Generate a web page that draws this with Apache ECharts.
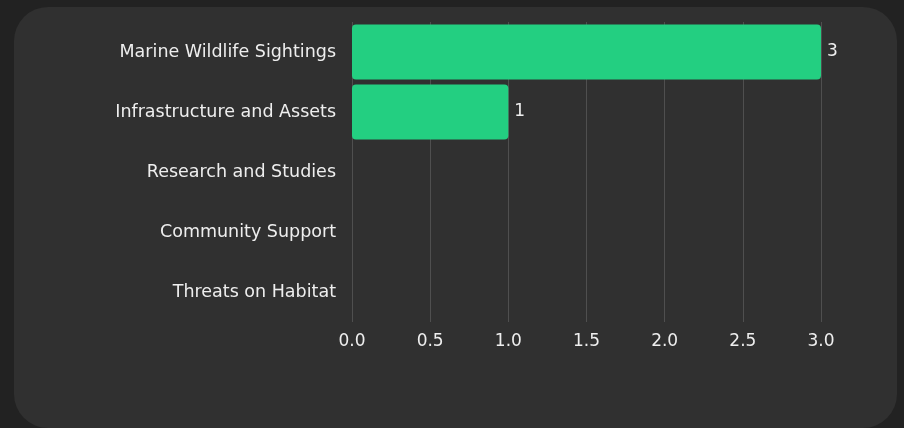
<!DOCTYPE html>
<html><head><meta charset="utf-8">
<script src="https://cdn.jsdelivr.net/npm/echarts@6/dist/echarts.min.js"></script>
<style>
html,body{margin:0;padding:0;background:#222222;width:904px;height:428px;overflow:hidden;}
#panel{position:absolute;left:14px;top:7px;width:883px;height:421px;background:#303030;border-radius:34px;}
#chart{position:absolute;left:0;top:0;width:904px;height:428px;}
</style></head>
<body>
<div id="panel"></div>
<div id="chart"></div>
<script>
const categories = ["Marine Wildlife Sightings","Infrastructure and Assets","Research and Studies","Community Support","Threats on Habitat"];
const values = [3, 1, 0, 0, 0];
const xTicks = [0, 0.5, 1, 1.5, 2, 2.5, 3];

const chart = echarts.init(document.getElementById('chart'), null, {renderer:'canvas'});
chart.setOption({
  backgroundColor: 'transparent',
  animation: false,
  textStyle: {fontFamily: '"DejaVu Sans", sans-serif'},
  grid: {left: 352, right: 83, top: 22, height: 300, containLabel: false},
  xAxis: {
    type: 'value', min: xTicks[0], max: xTicks[xTicks.length-1], interval: 0.5,
    axisLine: {show: false}, axisTick: {show: false},
    splitLine: {show: true, lineStyle: {color: '#4f4f4f', width: 1}},
    axisLabel: {color: '#eeeeee', fontSize: 17, margin: 11, formatter: v => v.toFixed(1)}
  },
  yAxis: {
    type: 'category', inverse: true, data: categories,
    axisLine: {show: false}, axisTick: {show: false},
    axisLabel: {color: '#eeeeee', fontSize: 17.5, margin: 16}
  },
  series: [{
    type: 'bar', data: values.map(v => v === 0 ? null : v), barCategoryGap: '8%',
    itemStyle: {color: '#23cf81', borderRadius: 4},
    label: {show: true, position: 'right', color: '#eeeeee', fontSize: 17, distance: 6}
  }]
});
</script>
</body></html>
